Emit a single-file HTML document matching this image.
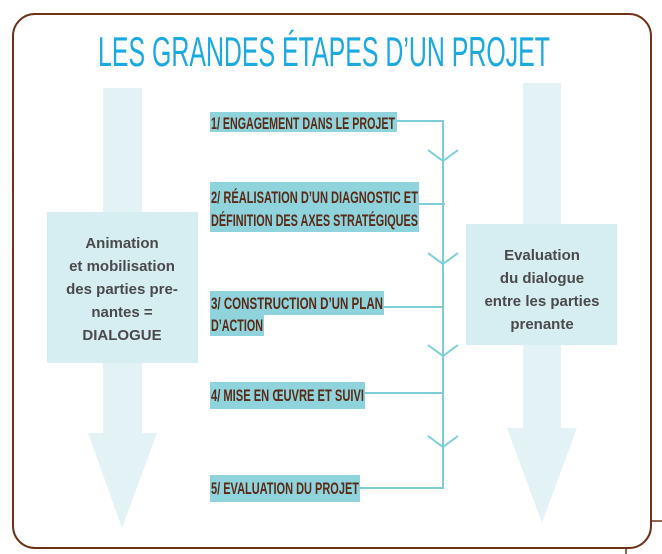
<!DOCTYPE html>
<html><head><meta charset="utf-8"><style>
html,body{margin:0;padding:0;background:#fff;}
svg{display:block;}
</style></head><body>
<svg width="662" height="554" viewBox="0 0 662 554" xmlns="http://www.w3.org/2000/svg">
  <rect x="13" y="14" width="638" height="534" rx="22" fill="#fff" stroke="#6b3419" stroke-width="2"/>
  <line x1="651" y1="521" x2="662" y2="521" stroke="#6b3419" stroke-width="1.5"/>
  <line x1="626" y1="548" x2="626" y2="554" stroke="#6b3419" stroke-width="1.5"/>

  <text x="324" y="66" text-anchor="middle" font-family="Liberation Sans, sans-serif" font-size="42" fill="#1aa9e0" textLength="452" lengthAdjust="spacingAndGlyphs">LES GRANDES ÉTAPES D’UN PROJET</text>

  <g fill="#e3f3f5">
    <rect x="103" y="88" width="39" height="346"/>
    <polygon points="88,433 157,433 122,528"/>
  </g>
  <rect x="47" y="212" width="151" height="151" fill="#d6edf1"/>
  <g font-family="Liberation Sans, sans-serif" font-weight="bold" font-size="15" fill="#4a4a4a" text-anchor="middle">
    <text x="122" y="248">Animation</text>
    <text x="122" y="271">et mobilisation</text>
    <text x="122" y="294">des parties pre-</text>
    <text x="122" y="317">nantes =</text>
    <text x="122" y="340">DIALOGUE</text>
  </g>

  <g fill="#e3f3f5">
    <rect x="523" y="83" width="38" height="346"/>
    <polygon points="507,428 577,428 542,523"/>
  </g>
  <rect x="466" y="224" width="151" height="121" fill="#d6edf1"/>
  <g font-family="Liberation Sans, sans-serif" font-weight="bold" font-size="15" fill="#4a4a4a" text-anchor="middle">
    <text x="542" y="260">Evaluation</text>
    <text x="542" y="283">du dialogue</text>
    <text x="542" y="306">entre les parties</text>
    <text x="542" y="329">prenante</text>
  </g>

  <g stroke="#7ccfd9" stroke-width="2" fill="none">
    <line x1="443" y1="121" x2="443" y2="489"/>
    <line x1="397" y1="121" x2="444" y2="121"/>
    <line x1="419" y1="204" x2="445" y2="204"/>
    <line x1="384" y1="307" x2="444" y2="307"/>
    <line x1="365" y1="393" x2="444" y2="393"/>
    <line x1="360" y1="488" x2="444" y2="488"/>
    <polyline points="428,150 443,161 458,150"/>
    <polyline points="428,253 443,264 458,253"/>
    <polyline points="428,345 443,356 458,345"/>
    <polyline points="428,436 443,447 458,436"/>
  </g>

  <g font-family="Liberation Sans, sans-serif" font-weight="bold" font-size="16.5" fill="#5a2a16">
    <g>
      <rect x="210" y="112" width="187" height="20" fill="#8fd3dc"/>
      <text x="211" y="129" textLength="184" lengthAdjust="spacingAndGlyphs">1/ ENGAGEMENT DANS LE PROJET</text>
    </g>
    <g>
      <rect x="210" y="182" width="209" height="50" fill="#8fd3dc"/>
      <text x="211" y="203" textLength="207" lengthAdjust="spacingAndGlyphs">2/ RÉALISATION D’UN DIAGNOSTIC ET</text>
      <text x="211" y="226" textLength="207" lengthAdjust="spacingAndGlyphs">DÉFINITION DES AXES STRATÉGIQUES</text>
    </g>
    <g>
      <rect x="210" y="291" width="174" height="24" fill="#8fd3dc"/>
      <rect x="210" y="313" width="54" height="23" fill="#8fd3dc"/>
      <text x="211" y="309" textLength="172" lengthAdjust="spacingAndGlyphs">3/ CONSTRUCTION D’UN PLAN</text>
      <text x="211" y="331" textLength="52" lengthAdjust="spacingAndGlyphs">D’ACTION</text>
    </g>
    <g>
      <rect x="210" y="382" width="155" height="27" fill="#8fd3dc"/>
      <text x="211" y="401" textLength="153" lengthAdjust="spacingAndGlyphs">4/ MISE EN ŒUVRE ET SUIVI</text>
    </g>
    <g>
      <rect x="210" y="475" width="150" height="27" fill="#8fd3dc"/>
      <text x="211" y="494" textLength="148" lengthAdjust="spacingAndGlyphs">5/ EVALUATION DU PROJET</text>
    </g>
  </g>
</svg>
</body></html>
